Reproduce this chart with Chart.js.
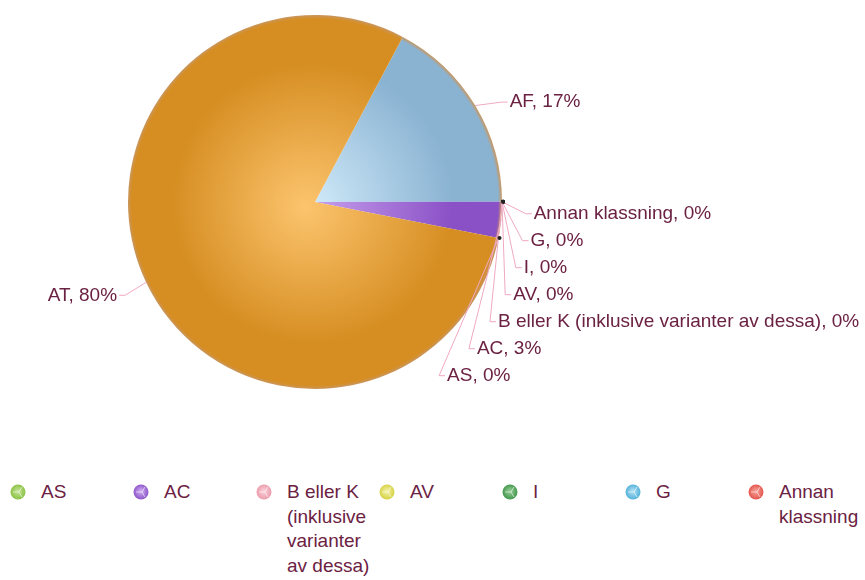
<!DOCTYPE html>
<html>
<head>
<meta charset="utf-8">
<script src="https://cdn.jsdelivr.net/npm/chart.js@4.4.1/dist/chart.umd.min.js"></script>
<style>
  html, body { margin: 0; padding: 0; background: #fff; overflow: hidden; }
  #wrap { position: relative; width: 865px; height: 580px; }
  #pie { position: absolute; left: 0; top: 0; }
  #legend { position: absolute; left: 9px; top: 480px; width: 1200px; font-family: "Liberation Sans", Arial, sans-serif; font-size: 19px; color: #6b2142; }
  .item { position: absolute; top: 0; width: 123px; }
  .item canvas { position: absolute; left: 0; top: 3px; }
  .item span { position: absolute; left: 32px; top: 0; width: 90px; line-height: 24.5px; }
</style>
</head>
<body>
<div id="wrap">
  <canvas id="pie" width="865" height="440"></canvas>
  <div id="legend"></div>
</div>
<script>
// drawing order, clockwise from the AF/AT border
const categories = ['AF', 'Annan klassning', 'G', 'I', 'AV', 'B eller K (inklusive varianter av dessa)', 'AC', 'AS', 'AT'];
const values = [17.2, 0, 0, 0, 0, 0, 3.1, 0, 79.7];
const shownPct = ['17%', '0%', '0%', '0%', '0%', '0%', '3%', '0%', '80%'];
const legendOrder = ['AS', 'AC', 'B eller K (inklusive varianter av dessa)', 'AV', 'I', 'G', 'Annan klassning', 'AT', 'AF'];

// [inner, outer] shades of each slice, also used for the legend dots
const colours = {
  'AF': ['#d3ecfb', '#8ab3d2'],
  'Annan klassning': ['#f59a90', '#e2524a'],
  'G': ['#a8dcf2', '#4eaed8'],
  'I': ['#8cc88e', '#3f944a'],
  'AV': ['#f0ee9a', '#d4d040'],
  'B eller K (inklusive varianter av dessa)': ['#f8ccd4', '#eb98aa'],
  'AC': ['#c9a3ee', '#8a50c6'],
  'AS': ['#bfe08e', '#86c040'],
  'AT': ['#fcc46e', '#d68e22']
};

const labelColor = '#6b2142';
const lineColor = '#f0a8c4';

function sliceFill(context) {
  const chart = context.chart;
  const name = categories[context.dataIndex];
  const area = chart.chartArea;
  if (!area) return colours[name][1];
  const cx = (area.left + area.right) / 2;
  const cy = (area.top + area.bottom) / 2;
  const r = Math.min(area.right - area.left, area.bottom - area.top) / 2;
  const g = chart.ctx.createRadialGradient(cx - 10, cy + 5, 0, cx, cy, r);
  g.addColorStop(0, colours[name][0]);
  g.addColorStop(0.75, colours[name][1]);
  g.addColorStop(0.98, colours[name][1]);
  g.addColorStop(1, '#c9965e');
  return g;
}

const labelPlugin = {
  id: 'pieLabels',
  afterDatasetsDraw(chart) {
    const ctx = chart.ctx;
    const meta = chart.getDatasetMeta(0);
    const R_OFF = 30, GAP = 27;
    const right = [], left = [];
    meta.data.forEach((arc, i) => {
      const p = arc.getProps(['x', 'y', 'startAngle', 'endAngle', 'outerRadius'], true);
      const mid = (p.startAngle + p.endAngle) / 2;
      const item = {
        i, mid, cx: p.x, cy: p.y, r: p.outerRadius,
        ax: p.x + Math.cos(mid) * p.outerRadius,
        ay: p.y + Math.sin(mid) * p.outerRadius,
        ideal: p.y + Math.sin(mid) * (p.outerRadius + R_OFF)
      };
      (Math.cos(mid) >= 0 ? right : left).push(item);
    });
    [[right, 12], [left, 0]].forEach(([side, shift]) => {
      side.sort((a, b) => a.ideal - b.ideal);
      let prev = -Infinity;
      side.forEach(it => {
        it.ly = Math.max(it.ideal + shift, prev + GAP);
        prev = it.ly;
      });
    });
    ctx.save();
    ctx.font = '19px "Liberation Sans", Arial, sans-serif';
    ctx.textBaseline = 'middle';
    right.concat(left).forEach(it => {
      const R = it.r + R_OFF;
      const dy = Math.min(Math.abs(it.ly - it.cy), R - 1);
      const dx = Math.sqrt(R * R - dy * dy);
      const onRight = Math.cos(it.mid) >= 0;
      const ex = onRight ? it.cx + dx : it.cx - dx;
      const dir = onRight ? 1 : -1;
      ctx.strokeStyle = lineColor;
      ctx.lineWidth = 1;
      ctx.beginPath();
      ctx.moveTo(it.ax, it.ay);
      ctx.lineTo(ex - dir * 6, it.ly);
      ctx.lineTo(ex, it.ly);
      ctx.stroke();
      if (values[it.i] === 0) {
        ctx.fillStyle = '#222';
        ctx.beginPath();
        ctx.arc(it.ax + 1, it.ay, 2, 0, Math.PI * 2);
        ctx.fill();
      }
      ctx.fillStyle = labelColor;
      ctx.textAlign = onRight ? 'left' : 'right';
      ctx.fillText(categories[it.i] + ', ' + shownPct[it.i], ex + dir * 2, it.ly);
    });
    ctx.restore();
  }
};

new Chart(document.getElementById('pie'), {
  type: 'pie',
  data: {
    labels: categories,
    datasets: [{
      data: values,
      backgroundColor: sliceFill,
      borderWidth: 0
    }]
  },
  options: {
    responsive: false,
    animation: false,
    rotation: 28,
    layout: { padding: { left: 0, right: 235, top: 15, bottom: 51 } },
    plugins: {
      legend: { display: false },
      tooltip: { enabled: false }
    }
  },
  plugins: [labelPlugin]
});

// legend below the pie
const legend = document.getElementById('legend');
legendOrder.forEach((name, k) => {
  const div = document.createElement('div');
  div.className = 'item';
  div.style.left = (k * 123) + 'px';
  const c = document.createElement('canvas');
  c.width = 18; c.height = 18;
  const x = c.getContext('2d');
  const g = x.createRadialGradient(9, 8, 1, 9, 9, 8);
  g.addColorStop(0, colours[name][0]);
  g.addColorStop(1, colours[name][1]);
  x.fillStyle = g;
  x.beginPath(); x.arc(9, 9, 7.5, 0, Math.PI * 2); x.fill();
  x.strokeStyle = 'rgba(255,255,255,0.6)';
  x.lineWidth = 1;
  x.beginPath();
  x.moveTo(4, 9); x.lineTo(10, 9);
  x.moveTo(10, 9); x.lineTo(13, 4);
  x.moveTo(10, 9); x.lineTo(13, 14);
  x.stroke();
  div.appendChild(c);
  const s = document.createElement('span');
  s.textContent = name;
  div.appendChild(s);
  legend.appendChild(div);
});
</script>
</body>
</html>
